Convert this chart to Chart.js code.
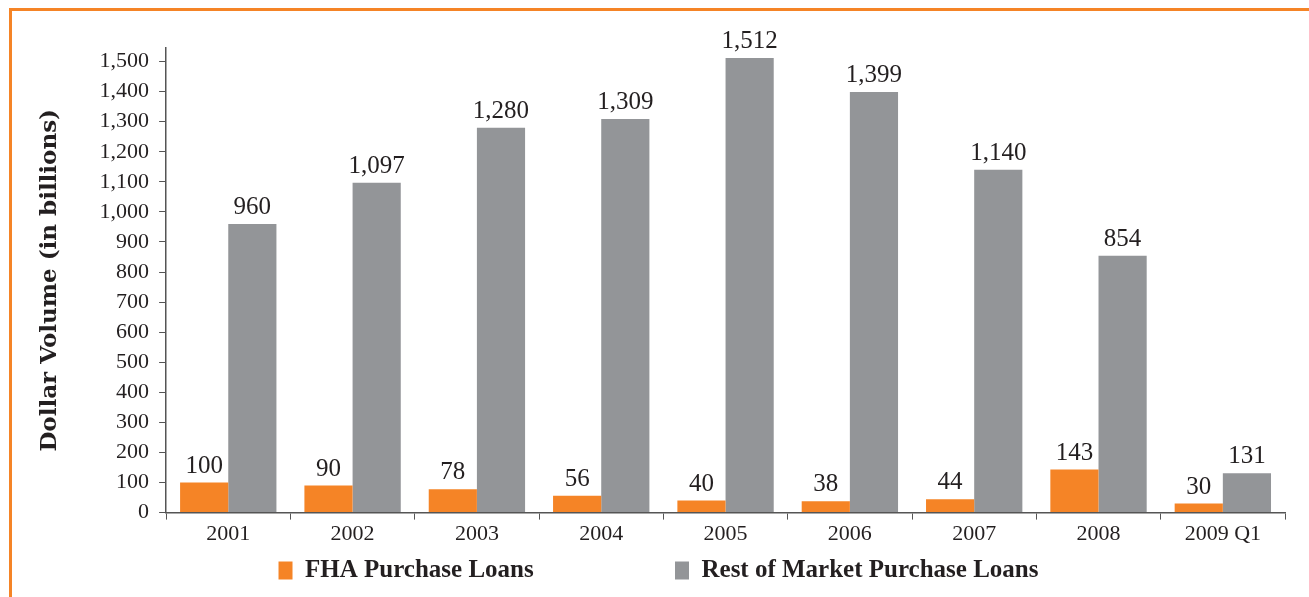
<!DOCTYPE html>
<html>
<head>
<meta charset="utf-8">
<title>FHA vs Rest of Market Purchase Loans</title>
<script src="https://cdn.jsdelivr.net/npm/chart.js@4/dist/chart.umd.min.js"></script>
<style>
  html, body { margin: 0; padding: 0; background: #fff; overflow: hidden; }
  #frame {
    position: absolute; left: 9px; top: 8px; width: 1400px; height: 700px;
    border-top: 3px solid #F58426; border-left: 3px solid #F58426;
  }
  #chart { position: absolute; left: 0; top: 0; }
</style>
</head>
<body>
<div id="frame"></div>
<canvas id="chart" width="1309" height="597"></canvas>
<script>
// categories and series
const years = ['2001', '2002', '2003', '2004', '2005', '2006', '2007', '2008', '2009 Q1'];
const fhaLoans = [100, 90, 78, 56, 40, 38, 44, 143, 30];
const restLoans = [960, 1097, 1280, 1309, 1512, 1399, 1140, 854, 131];
const yTicks = [0, 100, 200, 300, 400, 500, 600, 700, 800, 900, 1000, 1100, 1200, 1300, 1400, 1500];

const ORANGE = '#F58426';
const GREY = '#939598';
const TEXT = '#231F20';
const SERIF = "'Liberation Serif', 'DejaVu Serif', serif";

// draws the value above every bar
const valueLabels = {
    id: 'valueLabels',
    afterDatasetsDraw(chart) {
        const ctx = chart.ctx;
        ctx.save();
        ctx.font = `25px ${SERIF}`;
        ctx.fillStyle = TEXT;
        ctx.textAlign = 'center';
        ctx.textBaseline = 'bottom';
        chart.data.datasets.forEach((ds, i) => {
            chart.getDatasetMeta(i).data.forEach((bar, j) => {
                ctx.fillText(ds.data[j].toLocaleString('en-US'), bar.x, bar.y - 4);
            });
        });
        ctx.restore();
    }
};

new Chart(document.getElementById('chart'), {
    type: 'bar',
    data: {
        labels: years,
        datasets: [
            { label: 'FHA Purchase Loans', data: fhaLoans, backgroundColor: ORANGE },
            { label: 'Rest of Market Purchase Loans', data: restLoans, backgroundColor: GREY }
        ]
    },
    options: {
        responsive: false,
        animation: false,
        devicePixelRatio: 1,
        categoryPercentage: 0.775,
        barPercentage: 1,
        layout: { padding: { left: 32, right: 24, top: 48, bottom: 4 } },
        plugins: {
            tooltip: { enabled: false },
            legend: {
                position: 'bottom',
                labels: {
                    font: { family: SERIF, size: 25, weight: 'bold' },
                    color: TEXT,
                    boxWidth: 14,
                    boxHeight: 18,
                    padding: 10,
                    // widen the gap between the two legend entries
                    generateLabels(chart) {
                        const items = Chart.defaults.plugins.legend.labels.generateLabels(chart);
                        items[0].text += '\u00A0'.repeat(21);
                        return items;
                    }
                }
            }
        },
        scales: {
            x: {
                grid: { display: true, drawOnChartArea: false, drawTicks: true, tickLength: 7, color: '#555', offset: true },
                border: { color: '#555', width: 1.5 },
                ticks: { font: { family: SERIF, size: 22 }, color: TEXT, padding: 1 }
            },
            y: {
                min: 0,
                max: 1545,
                afterBuildTicks(scale) {
                    scale.ticks = yTicks.map(v => ({ value: v }));
                },
                grid: { display: true, drawOnChartArea: false, drawTicks: true, tickLength: 7, color: '#555' },
                border: { color: '#555', width: 1.5 },
                ticks: {
                    font: { family: SERIF, size: 22 },
                    color: TEXT,
                    padding: 10,
                    autoSkip: false,
                    callback: v => v.toLocaleString('en-US')
                },
                title: {
                    display: true,
                    text: 'Dollar Volume (in billions)',
                    font: { family: "'DejaVu Serif', serif", size: 23, weight: 'bold' },
                    color: TEXT,
                    padding: { bottom: 26 }
                }
            }
        }
    },
    plugins: [valueLabels]
});
</script>
</body>
</html>
